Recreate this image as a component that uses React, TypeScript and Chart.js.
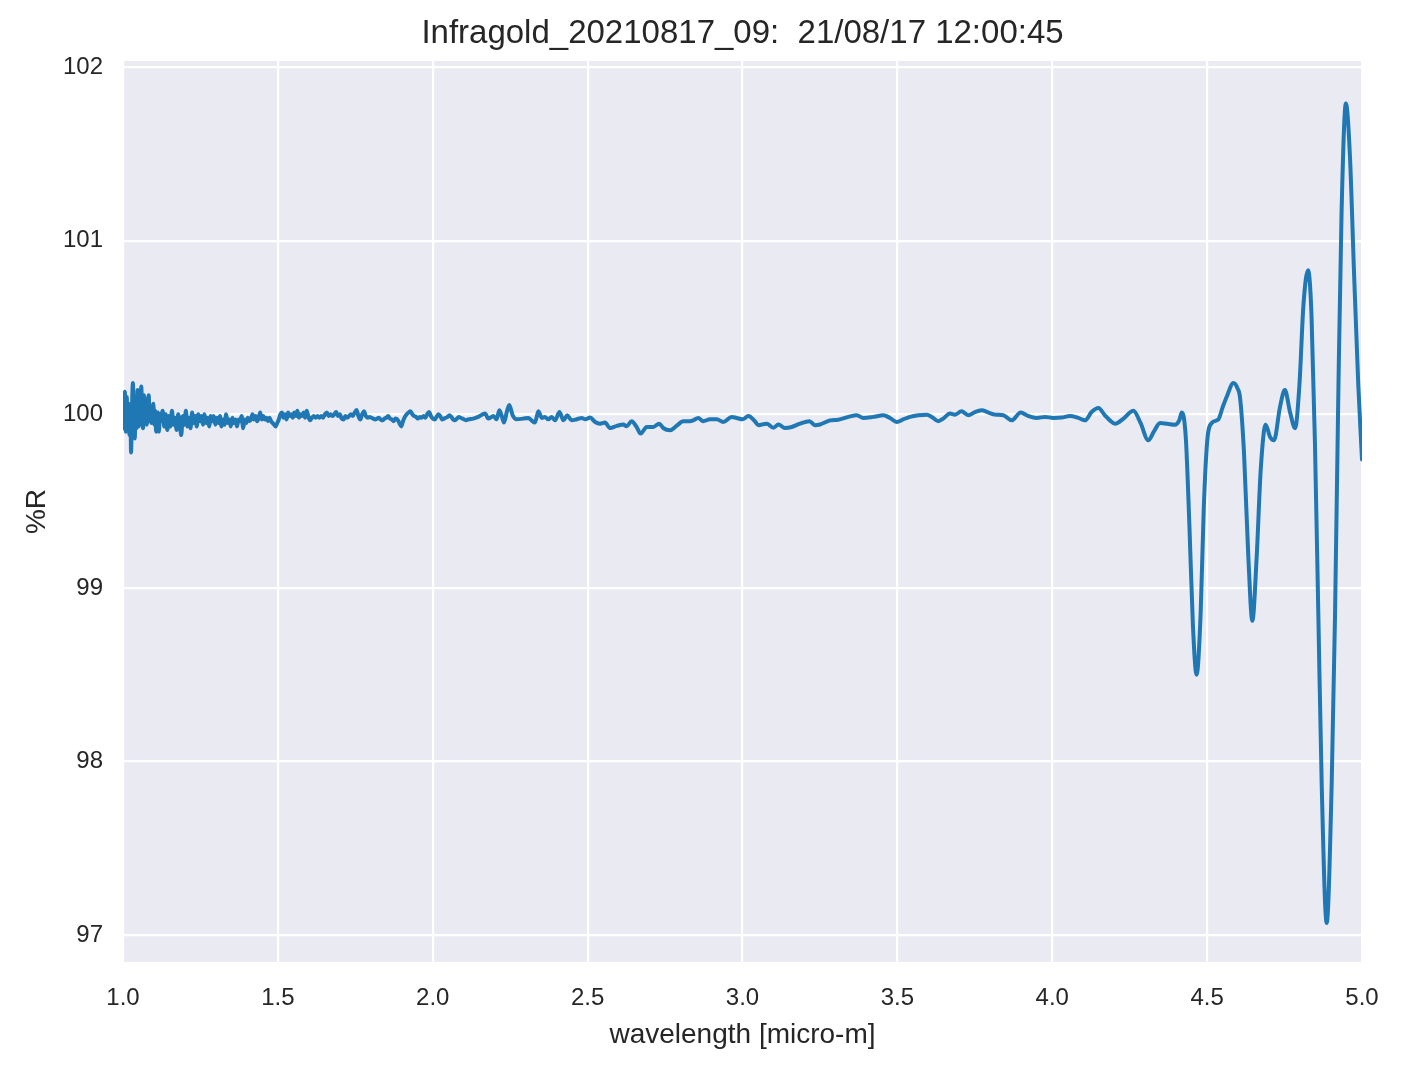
import React, { useEffect, useRef } from "react";
import { Chart, registerables } from "chart.js";

Chart.register(...registerables);

const TITLE = "Infragold_20210817_09:  21/08/17 12:00:45";
const X_LABEL = "wavelength [micro-m]";
const Y_LABEL = "%R";
const X_TICKS = [1.0, 1.5, 2.0, 2.5, 3.0, 3.5, 4.0, 4.5, 5.0];
const Y_TICKS = [97, 98, 99, 100, 101, 102];

// Segment 1: very noisy start
const waveSeg1 = [1.000, 1.003, 1.006, 1.009, 1.012, 1.015, 1.018, 1.021, 1.024, 1.026, 1.029, 1.032, 1.035, 1.038, 1.041, 1.044, 1.047, 1.050, 1.053, 1.056, 1.059, 1.062, 1.065, 1.068, 1.071, 1.074, 1.077, 1.080, 1.083, 1.086, 1.089, 1.092, 1.095, 1.098, 1.101, 1.104, 1.107, 1.110, 1.113, 1.116, 1.119];
const reflSeg1 = [100.08, 99.92, 100.13, 99.90, 100.10, 99.93, 100.06, 99.88, 100.05, 99.78, 100.04, 100.18, 99.95, 99.86, 100.10, 99.92, 100.14, 99.93, 100.08, 99.96, 100.16, 99.97, 99.92, 100.11, 99.98, 100.05, 99.94, 100.06, 100.11, 99.96, 100.04, 99.95, 100.02, 100.06, 99.94, 100.02, 99.90, 99.99, 100.01, 99.90, 100.00];

// Segment 2: 1.12 - 1.50
const waveSeg2 = [1.122, 1.128, 1.133, 1.138, 1.143, 1.148, 1.153, 1.158, 1.163, 1.168, 1.173, 1.178, 1.183, 1.188, 1.193, 1.198, 1.203, 1.208, 1.213, 1.218, 1.223, 1.228, 1.233, 1.238, 1.243, 1.248, 1.253, 1.258, 1.263, 1.268, 1.273, 1.278, 1.283, 1.288, 1.293, 1.298, 1.303, 1.308, 1.313, 1.318, 1.323, 1.328, 1.333, 1.338, 1.343, 1.348, 1.353, 1.358, 1.363, 1.368, 1.373, 1.378, 1.383, 1.388, 1.393, 1.398, 1.403, 1.408, 1.413, 1.418, 1.423, 1.428, 1.433, 1.438, 1.443, 1.448, 1.453, 1.458, 1.463, 1.468, 1.473, 1.478, 1.483, 1.488, 1.493, 1.498];
const reflSeg2 = [99.96, 100.02, 99.93, 100.00, 99.91, 99.99, 99.93, 100.02, 99.94, 99.98, 99.91, 100.00, 99.95, 99.88, 99.99, 99.94, 100.02, 99.93, 99.98, 99.92, 100.01, 99.95, 99.99, 99.93, 100.00, 99.96, 99.99, 99.94, 100.00, 99.95, 99.98, 99.93, 99.99, 99.96, 99.99, 99.94, 99.98, 99.95, 99.99, 99.93, 99.97, 99.94, 100.00, 99.95, 99.97, 99.93, 99.98, 99.95, 99.97, 99.93, 99.97, 99.96, 99.99, 99.92, 99.97, 99.95, 99.98, 99.96, 99.97, 100.00, 99.97, 99.99, 99.96, 99.98, 100.01, 99.97, 99.99, 99.97, 99.98, 99.96, 99.98, 99.96, 99.95, 99.94, 99.93, 99.95];

// Segment 3: 1.50 - 2.12
const waveSeg3 = [1.503, 1.508, 1.513, 1.518, 1.523, 1.528, 1.533, 1.538, 1.543, 1.548, 1.553, 1.558, 1.563, 1.568, 1.573, 1.578, 1.583, 1.588, 1.593, 1.598, 1.604, 1.610, 1.616, 1.622, 1.628, 1.634, 1.640, 1.646, 1.652, 1.658, 1.664, 1.670, 1.676, 1.682, 1.688, 1.694, 1.700, 1.706, 1.712, 1.718, 1.724, 1.730, 1.736, 1.742, 1.748, 1.754, 1.760, 1.766, 1.772, 1.778, 1.784, 1.790, 1.796, 1.802, 1.808, 1.814, 1.820, 1.826, 1.832, 1.838, 1.844, 1.850, 1.856, 1.862, 1.868, 1.874, 1.880, 1.886, 1.892, 1.898, 1.904, 1.910, 1.916, 1.922, 1.928, 1.934, 1.940, 1.946, 1.952, 1.958, 1.964, 1.970, 1.976, 1.982, 1.988, 1.994, 2.000, 2.006, 2.012, 2.018, 2.024, 2.030, 2.036, 2.042, 2.048, 2.054, 2.060, 2.066, 2.072, 2.078, 2.084, 2.090, 2.096, 2.102, 2.108, 2.114];
const reflSeg3 = [99.97, 100.00, 100.01, 99.98, 100.00, 99.97, 100.01, 99.99, 100.00, 99.98, 100.01, 99.99, 100.02, 99.98, 100.00, 99.99, 100.01, 99.98, 100.02, 99.99, 99.965, 99.98, 99.99, 99.98, 99.99, 99.98, 99.99, 99.98, 100.00, 100.01, 99.99, 100.00, 99.99, 100.00, 100.013, 99.99, 100.00, 99.975, 99.97, 99.99, 99.98, 99.99, 100.00, 99.99, 100.01, 100.025, 99.99, 99.97, 100.00, 100.017, 99.99, 99.98, 99.985, 99.98, 99.975, 99.97, 99.975, 99.98, 99.97, 99.965, 99.975, 99.98, 99.99, 99.975, 99.97, 99.96, 99.975, 99.97, 99.95, 99.93, 99.96, 99.985, 100.00, 100.01, 100.017, 100.00, 99.99, 99.985, 99.975, 99.985, 99.98, 99.99, 99.98, 100.00, 100.013, 99.99, 99.975, 99.97, 99.985, 100.00, 99.99, 99.97, 99.975, 99.98, 99.985, 99.995, 99.985, 99.97, 99.965, 99.975, 99.985, 99.98, 99.975, 99.97, 99.965, 99.97];

// Segment 4: 2.13 - 3.02
const waveSeg4 = [2.131, 2.147, 2.169, 2.179, 2.196, 2.206, 2.215, 2.222, 2.230, 2.239, 2.247, 2.258, 2.271, 2.292, 2.309, 2.319, 2.330, 2.341, 2.352, 2.362, 2.373, 2.384, 2.395, 2.409, 2.422, 2.434, 2.448, 2.465, 2.481, 2.492, 2.508, 2.524, 2.540, 2.556, 2.572, 2.594, 2.615, 2.626, 2.642, 2.658, 2.671, 2.691, 2.712, 2.731, 2.744, 2.766, 2.787, 2.809, 2.830, 2.841, 2.857, 2.873, 2.895, 2.917, 2.938, 2.965, 2.981, 3.000, 3.019];
const reflSeg4 = [99.975, 99.985, 100.004, 99.975, 99.990, 99.971, 100.023, 99.994, 99.952, 100.013, 100.054, 99.994, 99.971, 99.975, 99.979, 99.965, 99.952, 100.017, 99.979, 99.985, 99.971, 99.985, 99.965, 100.013, 99.965, 99.994, 99.965, 99.971, 99.979, 99.971, 99.981, 99.956, 99.946, 99.952, 99.921, 99.933, 99.941, 99.931, 99.960, 99.927, 99.889, 99.927, 99.927, 99.946, 99.921, 99.908, 99.933, 99.960, 99.960, 99.965, 99.979, 99.960, 99.971, 99.971, 99.956, 99.985, 99.979, 99.971, 99.990];

// Segment 5: 3.04 - 4.19
const waveSeg5 = [3.040, 3.051, 3.078, 3.100, 3.116, 3.137, 3.159, 3.186, 3.216, 3.234, 3.250, 3.283, 3.309, 3.342, 3.369, 3.390, 3.422, 3.455, 3.476, 3.498, 3.519, 3.541, 3.568, 3.595, 3.611, 3.632, 3.648, 3.670, 3.686, 3.707, 3.729, 3.750, 3.772, 3.794, 3.815, 3.842, 3.869, 3.898, 3.923, 3.950, 3.977, 4.003, 4.030, 4.057, 4.084, 4.106, 4.127, 4.149, 4.170, 4.186];
const reflSeg5 = [99.960, 99.937, 99.946, 99.923, 99.941, 99.921, 99.927, 99.946, 99.960, 99.937, 99.941, 99.965, 99.969, 99.985, 99.994, 99.979, 99.985, 99.994, 99.979, 99.956, 99.971, 99.985, 99.994, 99.998, 99.985, 99.960, 99.975, 100.004, 99.998, 100.017, 99.994, 100.013, 100.023, 100.010, 99.998, 99.994, 99.965, 100.010, 99.990, 99.979, 99.985, 99.979, 99.981, 99.990, 99.979, 99.965, 100.013, 100.036, 99.994, 99.965];

// Segment 6: 4.2 - 5.0, strong fringes
const waveSeg6 = [4.203, 4.230, 4.262, 4.285, 4.310, 4.328, 4.348, 4.372, 4.396, 4.410, 4.418, 4.425, 4.432, 4.443, 4.454, 4.466, 4.479, 4.489, 4.500, 4.515, 4.536, 4.550, 4.563, 4.585, 4.598, 4.606, 4.619, 4.633, 4.646, 4.660, 4.673, 4.689, 4.703, 4.716, 4.735, 4.751, 4.768, 4.784, 4.798, 4.811, 4.826, 4.837, 4.848, 4.859, 4.870, 4.886, 4.902, 4.913, 4.924, 4.934, 4.948, 4.961, 4.974, 4.988, 5.000];
const reflSeg6 = [99.946, 99.975, 100.020, 99.950, 99.850, 99.900, 99.950, 99.945, 99.940, 99.965, 100.010, 99.980, 99.840, 99.350, 98.790, 98.500, 98.850, 99.450, 99.840, 99.950, 99.970, 100.040, 100.100, 100.180, 100.150, 100.100, 99.780, 99.180, 98.810, 99.180, 99.680, 99.940, 99.870, 99.850, 100.040, 100.140, 100.010, 99.920, 100.170, 100.630, 100.830, 100.570, 99.840, 98.850, 97.860, 97.070, 97.860, 98.850, 100.170, 101.160, 101.790, 101.490, 100.830, 100.170, 99.740];

const wavelength = [...waveSeg1, ...waveSeg2, ...waveSeg3, ...waveSeg4, ...waveSeg5, ...waveSeg6];
const reflectance = [...reflSeg1, ...reflSeg2, ...reflSeg3, ...reflSeg4, ...reflSeg5, ...reflSeg6];

const FONT = "'Liberation Sans', Arial, Helvetica, sans-serif";
const TEXT_COLOR = "#262626";

const bgPlugin = {
  id: "plotBackground",
  beforeDraw(chart: any) {
    const { ctx, chartArea } = chart;
    ctx.save();
    ctx.fillStyle = "#EAEAF2";
    ctx.fillRect(chartArea.left, chartArea.top, chartArea.right - chartArea.left, chartArea.bottom - chartArea.top);
    ctx.restore();
  },
};

const textPlugin = {
  id: "figureTexts",
  afterDraw(chart: any) {
    const { ctx, chartArea } = chart;
    const cx = (chartArea.left + chartArea.right) / 2;
    const cy = (chartArea.top + chartArea.bottom) / 2;
    ctx.save();
    ctx.fillStyle = TEXT_COLOR;
    ctx.textAlign = "center";
    ctx.textBaseline = "alphabetic";
    ctx.font = `33px ${FONT}`;
    ctx.fillText(TITLE, cx, 43);
    ctx.font = `28px ${FONT}`;
    ctx.fillText(X_LABEL, cx, 1043);
    ctx.translate(45, cy);
    ctx.rotate(-Math.PI / 2);
    ctx.fillText(Y_LABEL, 0, 0);
    ctx.restore();
  },
};

export default function App() {
  const ref = useRef<HTMLCanvasElement | null>(null);

  useEffect(() => {
    if (!ref.current) return;
    const points = wavelength.map((w, i) => ({ x: w, y: reflectance[i] }));
    const chart = new Chart(ref.current, {
      type: "line",
      data: {
        datasets: [
          {
            data: points,
            borderColor: "#1f77b4",
            borderWidth: 4,
            pointRadius: 0,
            fill: false,
            cubicInterpolationMode: "monotone",
            borderJoinStyle: "round",
            borderCapStyle: "round",
          },
        ],
      },
      options: {
        responsive: false,
        maintainAspectRatio: false,
        animation: false,
        events: [],
        layout: { padding: { top: 61, right: 40, bottom: 0, left: 0 } },
        plugins: { legend: { display: false }, tooltip: { enabled: false }, title: { display: false } },
        scales: {
          x: {
            type: "linear",
            min: 1,
            max: 5,
            border: { display: false },
            grid: { color: "#ffffff", lineWidth: 2.2, drawTicks: false },
            afterBuildTicks: (s: any) => {
              s.ticks = X_TICKS.map((value) => ({ value }));
            },
            afterFit: (s: any) => {
              s.height = 107;
            },
            ticks: {
              autoSkip: false,
              maxRotation: 0,
              padding: 22,
              color: TEXT_COLOR,
              font: { family: FONT, size: 24 },
              callback: (v: any) => Number(v).toFixed(1),
            },
          },
          y: {
            type: "linear",
            min: 96.845,
            max: 102.035,
            border: { display: false },
            grid: { color: "#ffffff", lineWidth: 2.2, drawTicks: false },
            afterBuildTicks: (s: any) => {
              s.ticks = Y_TICKS.map((value) => ({ value }));
            },
            afterFit: (s: any) => {
              s.width = 123;
            },
            ticks: {
              autoSkip: false,
              padding: 20,
              color: TEXT_COLOR,
              font: { family: FONT, size: 24 },
              callback: (v: any) => String(Math.round(Number(v))),
            },
          },
        },
      },
      plugins: [bgPlugin, textPlugin],
    } as any);
    return () => chart.destroy();
  }, []);

  return (
    <div style={{ position: "absolute", left: 0, top: 0, width: 1402, height: 1069, background: "#ffffff" }}>
      <canvas ref={ref} width={1402} height={1069} style={{ display: "block" }} />
    </div>
  );
}
